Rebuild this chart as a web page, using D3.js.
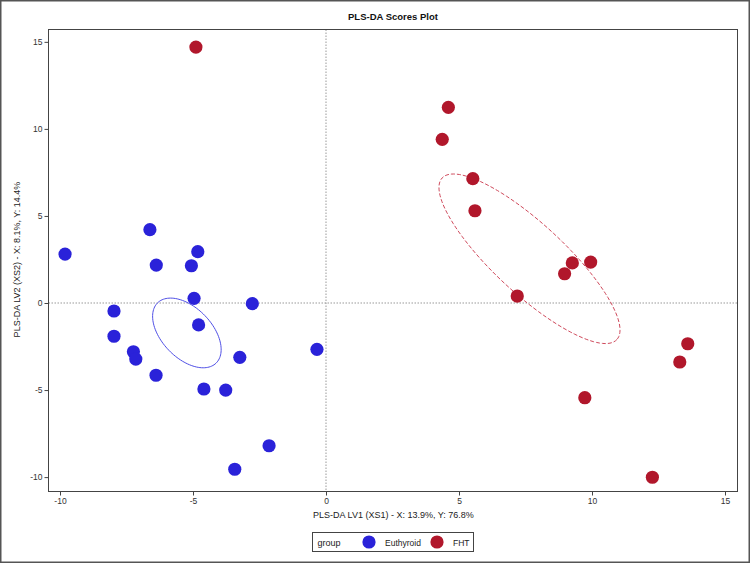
<!DOCTYPE html>
<html>
<head>
<meta charset="utf-8">
<script src="https://cdn.jsdelivr.net/npm/d3@7"></script>
<style>
  body { margin: 0; background: #fff; }
  svg text { font-family: "Liberation Sans", Arial, sans-serif; }
</style>
</head>
<body>
<div id="chart"></div>
<script>
// scores
var euthyroidX = [-9.81, -6.62, -6.38, -5.06, -4.82, -4.96, -2.77, -7.97, -4.79, -7.97,
                  -7.24, -7.15, -6.39, -3.24, -0.34, -4.59, -3.77, -2.14, -3.43];
var euthyroidY = [2.81, 4.21, 2.18, 2.14, 2.95, 0.27, -0.04, -0.46, -1.26, -1.91,
                  -2.80, -3.22, -4.15, -3.12, -2.66, -4.94, -5.00, -8.20, -9.55];
var fhtX = [4.60, 4.37, 5.52, 5.60, 9.26, 9.95, 8.97, 7.19, 13.60, 13.30, 9.73, 12.27, -4.89];
var fhtY = [11.24, 9.40, 7.14, 5.30, 2.30, 2.35, 1.68, 0.40, -2.34, -3.39, -5.44, -10.01, 14.70];

var groups = ['Euthyroid', 'FHT'];
var groupColors = ['#2a22d9', '#b1172b'];

// ellipse: centre, then two conjugate half-axis vectors (data units)
var euthyroidEllipse = [-5.23, -1.72, 1.097, -1.735, -0.676, -0.998];
var fhtEllipse = [7.65, 2.54, 3.284, -4.641, -0.893, -1.476];

var xTicks = [-10, -5, 0, 5, 10, 15];
var yTicks = [-10, -5, 0, 5, 10, 15];

var W = 750, H = 563;
var plot = {left: 48.5, right: 737.5, top: 29.5, bottom: 491.5};

var svg = d3.select('#chart').append('svg')
    .attr('width', W).attr('height', H);

svg.append('rect')
    .attr('x', 0.75).attr('y', 0.75)
    .attr('width', W - 1.5).attr('height', H - 1.5)
    .attr('fill', '#fff').attr('stroke', '#555').attr('stroke-width', 1.5);

var x = d3.scaleLinear()
    .domain([(plot.left - 326) / 26.6, (plot.right - 326) / 26.6])
    .range([plot.left, plot.right]);
var y = d3.scaleLinear()
    .domain([(303 - plot.bottom) / 17.41, (303 - plot.top) / 17.41])
    .range([plot.bottom, plot.top]);

svg.append('text')
    .attr('x', (plot.left + plot.right) / 2).attr('y', 20)
    .attr('text-anchor', 'middle')
    .attr('font-size', 9.5).attr('font-weight', 'bold')
    .attr('fill', '#111')
    .text('PLS-DA Scores Plot');

// zero reference lines
svg.append('line')
    .attr('x1', x(0)).attr('x2', x(0))
    .attr('y1', plot.top).attr('y2', plot.bottom)
    .attr('stroke', '#999').attr('stroke-dasharray', '1.5,1.5');
svg.append('line')
    .attr('x1', plot.left).attr('x2', plot.right)
    .attr('y1', y(0)).attr('y2', y(0))
    .attr('stroke', '#999').attr('stroke-dasharray', '1.5,1.5');

var makeEllipse = function(e) {
    var pts = d3.range(0, 361, 3).map(function(deg) {
        var t = deg * Math.PI / 180;
        return [e[0] + e[2] * Math.cos(t) + e[4] * Math.sin(t),
                e[1] + e[3] * Math.cos(t) + e[5] * Math.sin(t)];
    });
    return d3.line()
        .x(function(d) { return x(d[0]); })
        .y(function(d) { return y(d[1]); })(pts);
};

svg.append('path')
    .attr('d', makeEllipse(euthyroidEllipse))
    .attr('fill', 'none').attr('stroke', '#4f4fe6').attr('stroke-width', 1);
svg.append('path')
    .attr('d', makeEllipse(fhtEllipse))
    .attr('fill', 'none').attr('stroke', '#cf4a5c').attr('stroke-width', 1)
    .attr('stroke-dasharray', '4,2');

var series = [
    {name: groups[0], xs: euthyroidX, ys: euthyroidY, color: groupColors[0]},
    {name: groups[1], xs: fhtX, ys: fhtY, color: groupColors[1]}
];
series.forEach(function(s) {
    svg.append('g').selectAll('circle')
        .data(s.xs)
        .enter().append('circle')
            .attr('cx', function(d) { return x(d); })
            .attr('cy', function(d, i) { return y(s.ys[i]); })
            .attr('r', 6.6)
            .attr('fill', s.color);
});

// plot frame
svg.append('rect')
    .attr('x', plot.left).attr('y', plot.top)
    .attr('width', plot.right - plot.left).attr('height', plot.bottom - plot.top)
    .attr('fill', 'none').attr('stroke', '#444').attr('stroke-width', 1);

var fmt = function(d) { return String(d); };

var xAxis = svg.append('g')
    .attr('transform', 'translate(0,' + plot.bottom + ')')
    .call(d3.axisBottom(x).tickValues(xTicks).tickFormat(fmt).tickSize(4).tickPadding(2));
var yAxis = svg.append('g')
    .attr('transform', 'translate(' + plot.left + ',0)')
    .call(d3.axisLeft(y).tickValues(yTicks).tickFormat(fmt).tickSize(4).tickPadding(2));
[xAxis, yAxis].forEach(function(a) {
    a.select('.domain').remove();
    a.selectAll('line').attr('stroke', '#444');
    a.selectAll('text')
        .attr('font-size', 8.5).attr('fill', '#333')
        .style('font-family', '"Liberation Sans", Arial, sans-serif');
});

svg.append('text')
    .attr('x', (plot.left + plot.right) / 2 + 0.5).attr('y', 518)
    .attr('text-anchor', 'middle')
    .attr('font-size', 9).attr('fill', '#222')
    .text('PLS-DA LV1 (XS1) - X: 13.9%, Y: 76.8%');

svg.append('text')
    .attr('transform', 'translate(20,' + ((plot.top + plot.bottom) / 2 - 1) + ') rotate(-90)')
    .attr('text-anchor', 'middle')
    .attr('font-size', 9).attr('fill', '#222')
    .text('PLS-DA LV2 (XS2) - X: 8.1%, Y: 14.4%');

// legend
var legend = svg.append('g').attr('transform', 'translate(312.5,532.5)');
legend.append('rect')
    .attr('width', 161).attr('height', 19)
    .attr('fill', '#fff').attr('stroke', '#444');
legend.append('text')
    .attr('x', 5).attr('y', 13)
    .attr('font-size', 9).attr('fill', '#222')
    .text('group');
var legendX = [56.5, 124.5];
series.forEach(function(s, i) {
    legend.append('circle')
        .attr('cx', legendX[i]).attr('cy', 9.5).attr('r', 6.6)
        .attr('fill', s.color);
    legend.append('text')
        .attr('x', legendX[i] + 16).attr('y', 13)
        .attr('font-size', 8.5).attr('fill', '#222')
        .text(s.name);
});
</script>
</body>
</html>
